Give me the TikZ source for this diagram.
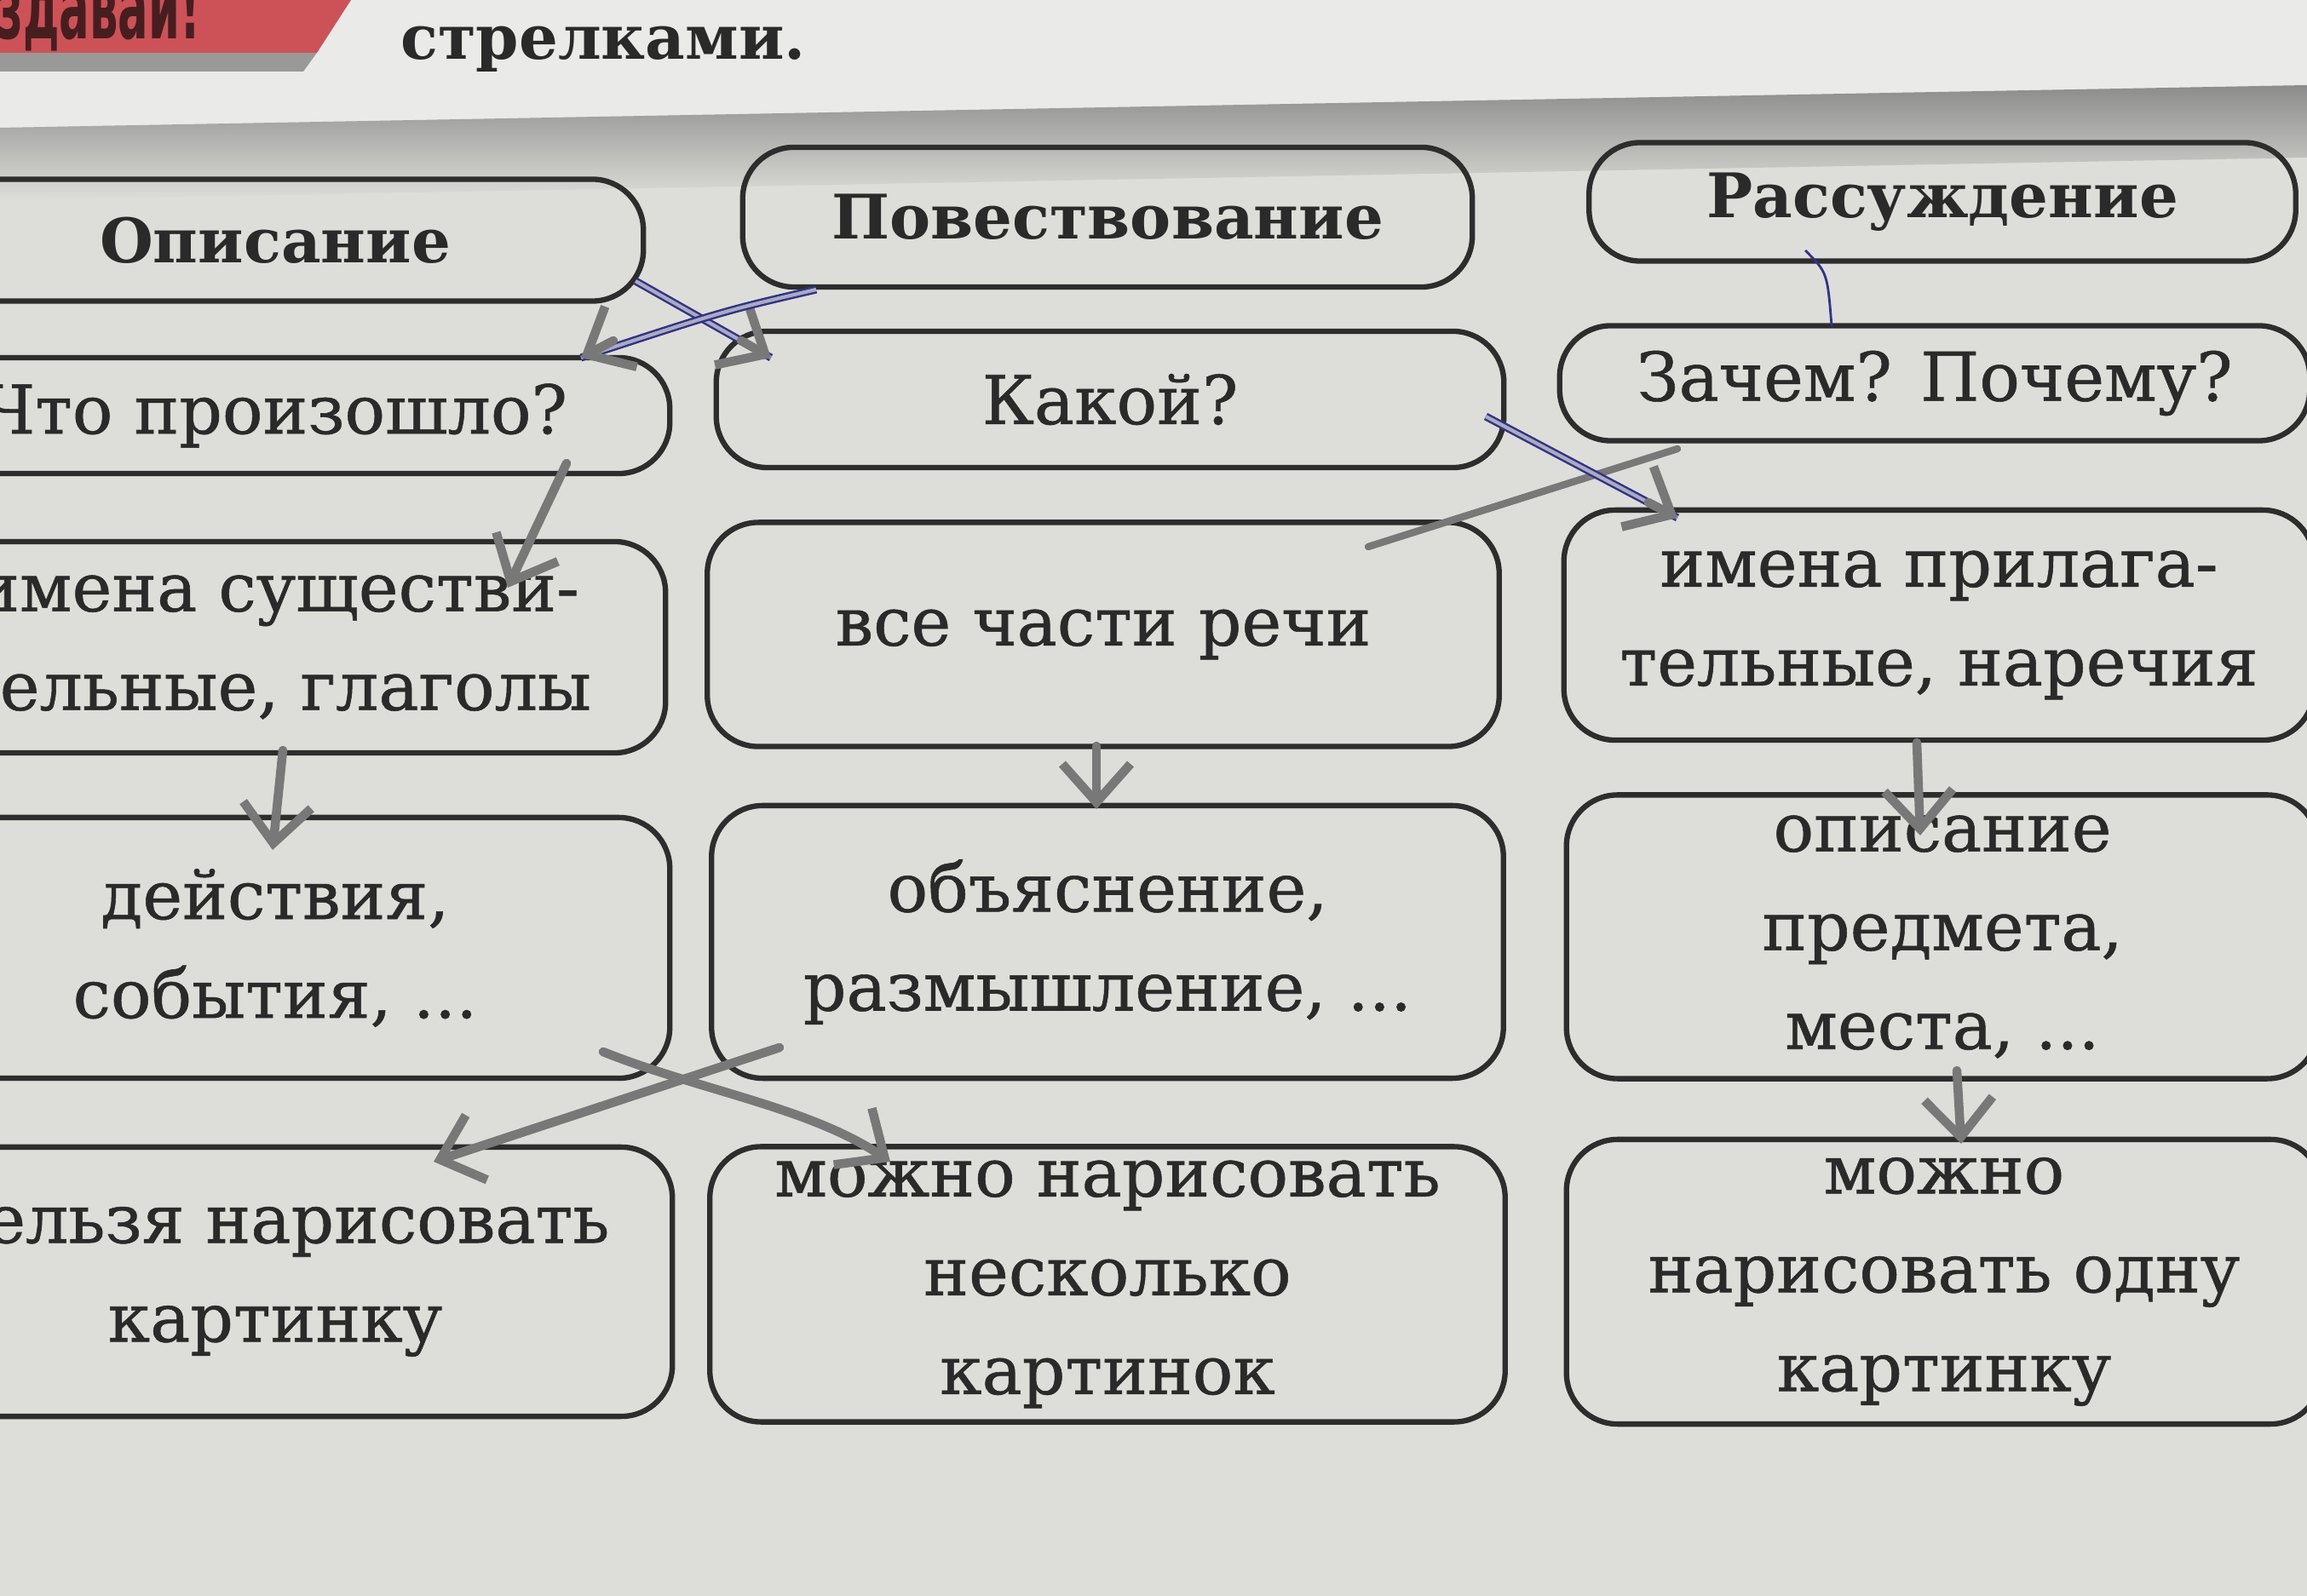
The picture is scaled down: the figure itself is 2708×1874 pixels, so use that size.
\documentclass[tikz,border=0pt]{standalone}
\usepackage{fontspec}
\setmainfont{DejaVu Serif}[UprightFeatures={FakeBold=0.7}]
\newfontfamily\tagfont{DejaVu Sans}
\usetikzlibrary{arrows.meta}
\definecolor{paper}{RGB}{221,221,217}
\definecolor{upperpage}{RGB}{234,234,232}
\definecolor{boxline}{RGB}{45,45,45}
\definecolor{ink}{RGB}{42,42,42}
\definecolor{pencilc}{RGB}{120,120,120}
\definecolor{bluec}{RGB}{50,50,135}
\definecolor{tagred}{RGB}{205,82,88}
\definecolor{tagink}{RGB}{70,30,32}
\begin{document}
\begin{tikzpicture}[x=0.01cm,y=-0.01cm,
  box/.style={draw=boxline, line width=1.8pt, rounded corners=0.6cm, align=center, text=ink, inner sep=0pt, font=\fontsize{22.5}{33}\selectfont},
  headbox/.style={box, font=\bfseries\fontsize{20.5}{28}\selectfont},
  pencilline/.style={draw=pencilc, line width=3pt, line cap=round, line join=round},
  pencilarrow/.style={pencilline, -{Straight Barb[length=4.5mm,width=8mm]}},
  bluepen/.style={draw=bluec, line width=0.7pt, double=bluec!30!paper, double distance=1.2pt},
  bluethin/.style={draw=bluec, line width=0.8pt},
]
\useasboundingbox (0,0) rectangle (2708,1874);
\clip (0,0) rectangle (2708,1874);
% paper
\fill[paper] (0,0) rectangle (2708,1874);
\fill[upperpage] (0,0) -- (2708,0) -- (2708,100) -- (0,150) -- cycle;
\shade[top color=black!45, bottom color=paper] (0,150) -- (2708,100) -- (2708,185) -- (0,235) -- cycle;
% red tag
\fill[black!40] (0,62) -- (372,62) -- (356,84) -- (0,84) -- cycle;
\fill[tagred] (0,0) -- (412,0) -- (372,62) -- (0,62) -- cycle;
\node[anchor=base east, text=tagink, font=\tagfont\bfseries\fontsize{30}{30}\selectfont, inner sep=0pt] (tag) at (236,46) {\scalebox{0.5}[1]{здавай!}};
\node[anchor=center, text=ink, font=\bfseries\fontsize{20.5}{24}\selectfont, inner sep=0pt] (strelk) at (708,58) {стрелками.};

% row 1
\node[headbox, minimum width=8.64cm, minimum height=1.43cm] (opis) at (323,282) {Описание};
\node[headbox, minimum width=8.56cm, minimum height=1.64cm] (povest) at (1300,255) {Повествование};
\node[headbox, minimum width=8.29cm, minimum height=1.39cm] (rassuzh) at (2280,237) {Рассуждение};
% row 2
\node[box, minimum width=9.26cm, minimum height=1.36cm] (chto) at (323,488) {Что произошло?};
\node[box, minimum width=9.24cm, minimum height=1.60cm] (kakoi) at (1303,469) {Какой?};
\node[box, minimum width=8.80cm, minimum height=1.35cm] (zachem) at (2271,450) {Зачем? Почему?};
% row 3
\node[box, minimum width=9.12cm, minimum height=2.48cm] (imsush) at (325,760) {имена существи-\\тельные, глаголы};
\node[box, minimum width=9.29cm, minimum height=2.63cm] (vse) at (1295,745) {все части речи};
\node[box, minimum width=8.80cm, minimum height=2.70cm] (impril) at (2276,734) {имена прилага-\\тельные, наречия};
% row 4
\node[box, minimum width=9.26cm, minimum height=3.06cm] (deistv) at (323,1113) {действия,\\события, ...};
\node[box, minimum width=9.29cm, minimum height=3.20cm] (obyasn) at (1300,1106) {объяснение,\\размышление, ...};
\node[box, minimum width=8.82cm, minimum height=3.33cm] (opisanie) at (2280,1100) {описание\\предмета,\\места, ...};
% row 5
\node[box, minimum width=9.32cm, minimum height=3.16cm] (nelzya) at (323,1505) {нельзя нарисовать\\картинку};
\node[box, minimum width=9.33cm, minimum height=3.23cm] (neskolko) at (1300,1508) {можно нарисовать\\несколько\\картинок};
\node[box, minimum width=8.86cm, minimum height=3.34cm] (odnu) at (2282,1505) {можно\\нарисовать одну\\картинку};

% connector end points
\coordinate (a1s) at (746,330);  \coordinate (a1m) at (870,400);  \coordinate (a1e) at (905,420);
\coordinate (a2s) at (958,340);  \coordinate (a2m) at (720,400);  \coordinate (a2e) at (682,420);
\coordinate (a3s) at (665,544);  \coordinate (a3e) at (596,690);
\coordinate (a4s) at (332,881);  \coordinate (a4e) at (320,998);
\coordinate (a5s) at (1287,876); \coordinate (a5e) at (1287,950);
\coordinate (a6s) at (1969,527); \coordinate (a6e) at (1606,642);
\coordinate (a7s) at (2119,294); \coordinate (a7e) at (2150,383);
\coordinate (a8s) at (1744,489); \coordinate (a8m) at (1935,590); \coordinate (a8e) at (1969,608);
\coordinate (a9s) at (2250,872); \coordinate (a9e) at (2254,981);
\coordinate (a10s) at (2297,1257); \coordinate (a10e) at (2302,1343);
\coordinate (a11s) at (915,1230); \coordinate (a11e) at (509,1364);
\coordinate (a12s) at (708,1235); \coordinate (a12e) at (1045,1364);

% hand-drawn connectors
\draw[bluepen] (a1s) -- (a1e);
\draw[pencilarrow] (a1m) -- (a1e);
\draw[bluepen] (a2s) .. controls (850,365) .. (a2e);
\draw[pencilarrow] (a2m) -- (a2e);
\draw[pencilarrow] (a3s) -- (a3e);
\draw[pencilarrow] (a4s) -- (a4e);
\draw[pencilarrow] (a5s) -- (a5e);
\draw[pencilline, line width=2.4pt] (a6s) -- (a6e);
\draw[bluethin] (a7s) .. controls (2145,320) .. (a7e);
\draw[bluepen] (a8s) -- (a8e);
\draw[pencilarrow] (a8m) -- (a8e);
\draw[pencilarrow] (a9s) -- (a9e);
\draw[pencilarrow] (a10s) -- (a10e);
\draw[pencilarrow] (a11s) -- (a11e);
\draw[pencilarrow] (a12s) .. controls (820,1280) and (950,1300) .. (a12e);
\end{tikzpicture}
\end{document}
